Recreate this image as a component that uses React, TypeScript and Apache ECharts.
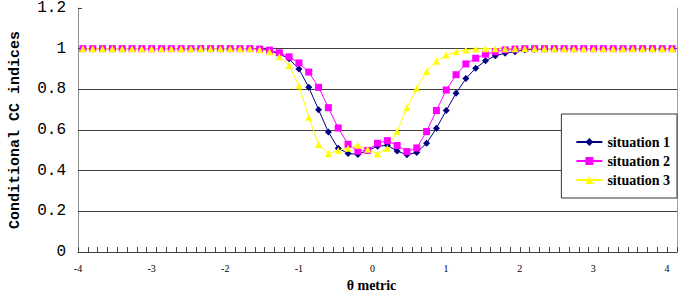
import React, { useEffect, useRef } from "react";
import * as echarts from "echarts";

// θ values of the 61 evaluation points
const thetaPoints = [
  -4.0, -3.87, -3.73, -3.6, -3.47, -3.33, -3.2, -3.07, -2.93, -2.8,
  -2.67, -2.53, -2.4, -2.27, -2.13, -2.0, -1.87, -1.73, -1.6, -1.47,
  -1.33, -1.2, -1.07, -0.93, -0.8, -0.67, -0.53, -0.4, -0.27, -0.13,
  0.0, 0.13, 0.27, 0.4, 0.53, 0.67, 0.8, 0.93, 1.07, 1.2,
  1.33, 1.47, 1.6, 1.73, 1.87, 2.0, 2.13, 2.27, 2.4, 2.53,
  2.67, 2.8, 2.93, 3.07, 3.2, 3.33, 3.47, 3.6, 3.73, 3.87, 4.0,
];

const seriesNames = ["situation 1", "situation 2", "situation 3"];

const situation1 = [
  1, 1, 1, 1, 1, 1, 1, 1, 1, 1,
  1, 1, 1, 1, 1, 1, 1, 1, 0.997, 0.99,
  0.975, 0.95, 0.9, 0.81, 0.7, 0.59, 0.51, 0.485, 0.48, 0.5,
  0.52, 0.525, 0.497, 0.478, 0.49, 0.535, 0.609, 0.696, 0.781, 0.853,
  0.904, 0.941, 0.965, 0.978, 0.985, 0.994, 0.997, 0.999, 1, 1,
  1, 1, 1, 1, 1, 1, 1, 1, 1, 1, 1,
];

const situation2 = [
  1, 1, 1, 1, 1, 1, 1, 1, 1, 1,
  1, 1, 1, 1, 1, 1, 1, 1, 0.998, 0.993,
  0.98, 0.96, 0.93, 0.885, 0.81, 0.71, 0.61, 0.53, 0.496, 0.5,
  0.535, 0.548, 0.524, 0.494, 0.512, 0.593, 0.696, 0.797, 0.872, 0.925,
  0.953, 0.973, 0.985, 0.994, 0.998, 1, 1, 1, 1, 1,
  1, 1, 1, 1, 1, 1, 1, 1, 1, 1, 1,
];

const situation3 = [
  1, 1, 1, 1, 1, 1, 1, 1, 1, 1,
  1, 1, 1, 1, 1, 1, 1, 1, 0.995, 0.985,
  0.96, 0.917, 0.818, 0.663, 0.529, 0.483, 0.5, 0.51, 0.525, 0.505,
  0.483, 0.51, 0.593, 0.71, 0.805, 0.888, 0.938, 0.969, 0.985, 0.994,
  0.998, 1, 1, 1, 1, 1, 1, 1, 1, 1,
  1, 1, 1, 1, 1, 1, 1, 1, 1, 1, 1,
];

const seriesColors = ["#000080", "#ff00ff", "#ffff00"];
const seriesSymbols = ["diamond", "rect", "triangle"];
const symbolSizes = [7, 7, 7];

export default function App() {
  const ref = useRef<HTMLDivElement>(null);

  useEffect(() => {
    if (!ref.current) return;
    const chart = echarts.init(ref.current, null, { renderer: "svg" });
    const values = [situation1, situation2, situation3];
    chart.setOption({
      animation: false,
      backgroundColor: "#ffffff",
      grid: {
        left: 66,
        right: 3,
        top: 8,
        bottom: 40,
        show: false,
      },
      legend: {
        show: true,
        orient: "vertical",
        right: 3,
        top: 114,
        backgroundColor: "#ffffff",
        borderColor: "#333333",
        borderWidth: 1,
        borderRadius: 0,
        padding: [21, 7, 11, 14],
        itemWidth: 26,
        itemHeight: 10,
        itemGap: 5,
        textStyle: {
          fontFamily: "Liberation Serif",
          fontWeight: "bold",
          fontSize: 14,
          color: "#000000",
        },
        data: seriesNames,
      },
      xAxis: [
        {
          type: "value",
          min: -4,
          max: 4.137,
          interval: 1,
          position: "bottom",
          axisLine: { show: false, onZero: false },
          axisTick: { show: false },
          splitLine: { show: false },
          axisLabel: {
            formatter: (v: number) =>
              Math.abs(v - Math.round(v)) < 1e-6 ? String(Math.round(v)) : "",
            fontFamily: "Liberation Serif",
            fontSize: 10,
            color: "#000000",
            margin: 11,
          },
          name: "θ metric",
          nameLocation: "middle",
          nameGap: 24,
          nameTextStyle: {
            fontFamily: "Liberation Serif",
            fontWeight: "bold",
            fontSize: 14,
            color: "#000000",
            padding: [0, 12, 0, 0],
          },
        },
        {
          type: "category",
          data: thetaPoints.map((t) => String(t)),
          boundaryGap: true,
          position: "bottom",
          axisLine: {
            show: true,
            onZero: false,
            lineStyle: { color: "#404040", width: 1 },
          },
          axisTick: {
            show: true,
            inside: true,
            length: 5,
            interval: 0,
            lineStyle: { color: "#404040", width: 1 },
          },
          axisLabel: { show: false },
          splitLine: { show: false },
        },
      ],
      yAxis: [
        {
          type: "value",
          min: 0,
          max: 1.2,
          interval: 0.2,
          position: "left",
          axisLine: {
            show: true,
            onZero: false,
            lineStyle: { color: "#909090", width: 1 },
          },
          axisTick: {
            show: true,
            inside: true,
            length: 4,
            lineStyle: { color: "#404040" },
          },
          axisLabel: {
            fontFamily: "Liberation Mono",
            fontSize: 16,
            color: "#000000",
            margin: 12,
          },
          splitLine: {
            show: true,
            lineStyle: {
              color: [
                "#404040",
                "#404040",
                "#404040",
                "#404040",
                "#404040",
                "#404040",
                "rgba(0,0,0,0)",
              ],
              width: 1,
            },
          },
          name: "Conditional CC indices",
          nameLocation: "middle",
          nameGap: 55,
          nameTextStyle: {
            fontFamily: "Liberation Mono",
            fontWeight: "bold",
            fontSize: 15,
            color: "#000000",
          },
        },
        {
          type: "value",
          min: 0,
          max: 1.2,
          interval: 0.2,
          position: "right",
          axisLine: {
            show: true,
            onZero: false,
            lineStyle: { color: "#a0a0a0", width: 1 },
          },
          axisTick: { show: false },
          axisLabel: { show: false },
          splitLine: { show: false },
        },
      ],
      series: seriesNames.map((name, i) => ({
        name,
        type: "line",
        xAxisIndex: 1,
        yAxisIndex: 0,
        data: values[i],
        symbol: seriesSymbols[i],
        symbolSize: symbolSizes[i],
        showSymbol: true,
        showAllSymbol: true,
        lineStyle: { color: seriesColors[i], width: 1 },
        itemStyle: { color: seriesColors[i], borderWidth: 0 },
        emphasis: { disabled: true },
      })),
    });
    return () => chart.dispose();
  }, []);

  return (
    <div
      ref={ref}
      style={{
        position: "fixed",
        left: 0,
        top: 0,
        width: 680,
        height: 297,
        background: "#ffffff",
      }}
    />
  );
}
